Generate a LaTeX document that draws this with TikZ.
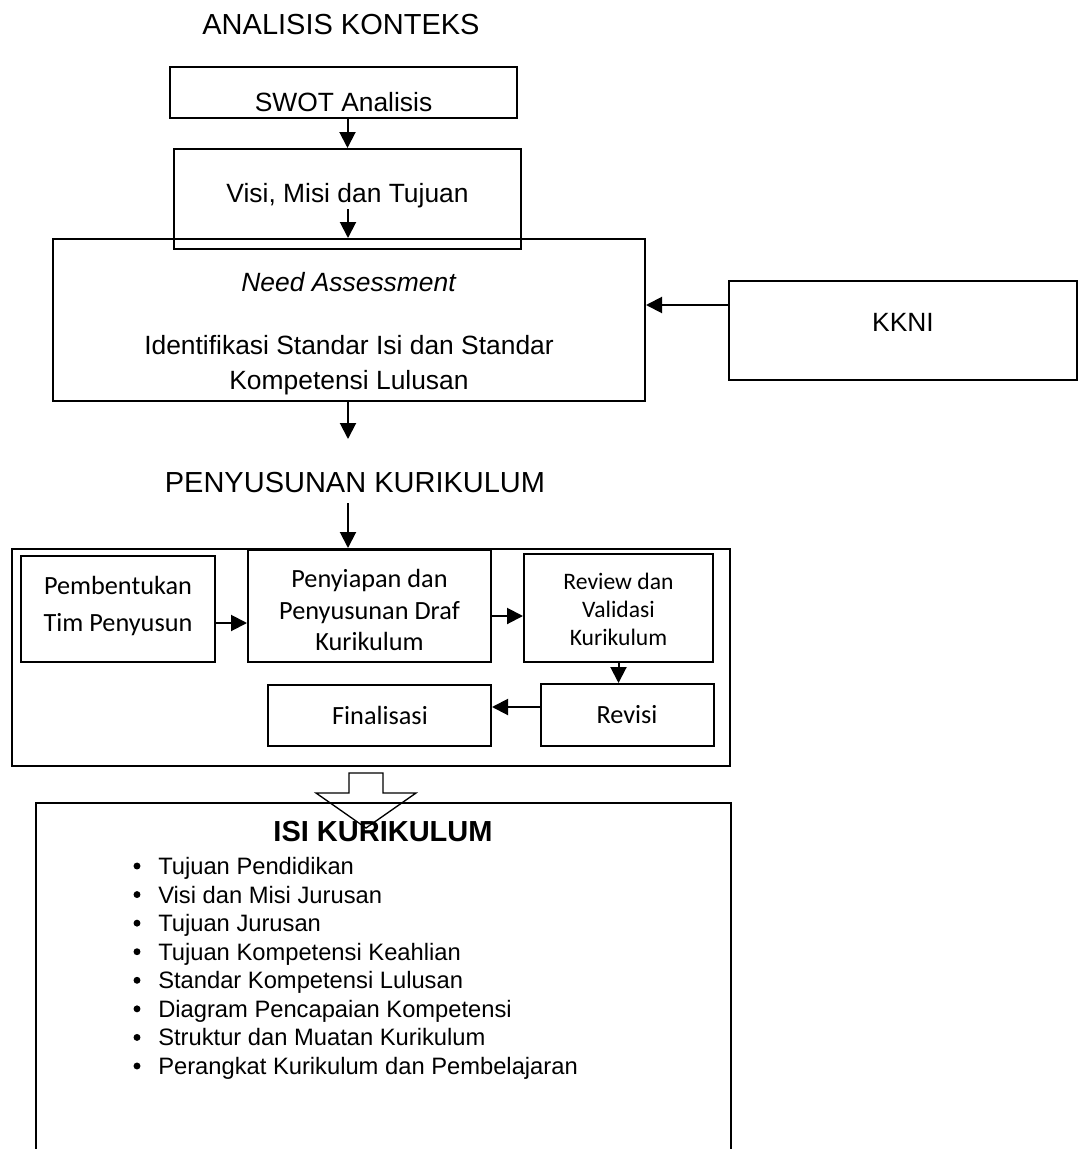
\documentclass[tikz,border=0pt]{standalone}
\usepackage{fontspec}
\setmainfont{Liberation Sans}
\newfontfamily\calibrifont{Carlito}
\usetikzlibrary{arrows.meta}

\begin{document}
\begin{tikzpicture}
[x=0.75pt, y=-0.75pt,
  boxdecorate/.style={draw, line width=1.5pt, inner sep=0pt},%
  linedecorate/.style={-{Triangle[length=12pt,width=12pt]}, line width=1.5pt},%
  arialtext/.style={font=\fontsize{19.8}{26.25}\selectfont, align=center, inner sep=0pt},%
  calibritext/.style={font=\calibrifont\fontsize{19.7}{28}\selectfont, align=center, inner sep=0pt},%
  titletext/.style={font=\fontsize{21.75}{26}\selectfont, inner sep=0pt},%
  itemtext/.style={font=\fontsize{17.8}{21.4}\selectfont, inner sep=0pt, anchor=base west}]
\useasboundingbox (0,0) rectangle (1081,1149);
%% boxes
\foreach \nodename/\x/\y/\w/\h in {swot/343.5/92.5/347/51, visi/347.5/199/347/100,
  need/349/320/592/162, kkni/903/330.5/348/99, penyusunan/371/657.5/718/217,
  tim/118/609/194/106, draf/369.5/606/243/112, review/618.5/608/189/108,
  final/379.5/715.5/223/61, revisi/627.5/715/173/62}
{
  \node (\nodename) at (\x,\y) [boxdecorate, minimum width=\w*0.75pt, minimum height=\h*0.75pt] {};
}
\node (isi) at (383.5,976) [inner sep=0pt, minimum width=695*0.75pt, minimum height=346*0.75pt] {};
\draw[line width=1.5pt] (isi.south west) -- (isi.north west) -- (isi.north east) -- (isi.south east);
%% texts
\node (analisis) at (341,25) [titletext] {ANALISIS KONTEKS};
\node (swot-text) at (343.5,101.7) [arialtext] {SWOT Analisis};
\node (visi-text) at (347.5,196) [arialtext] {Visi, Misi dan Tujuan};
\node (need-text) at (349,334) [arialtext] {\textit{Need Assessment}\\[21pt]Identifikasi Standar Isi dan Standar\\Kompetensi Lulusan};
\node (kkni-text) at (903,322.5) [arialtext] {KKNI};
\node (penyusunan-title) at (355,483) [titletext] {PENYUSUNAN KURIKULUM};
\node (tim-text) at (118,606) [calibritext] {Pembentukan\\Tim Penyusun};
\node (draf-text) at (369.5,610) [calibritext, font=\calibrifont\fontsize{19.7}{23.6}\selectfont] {Penyiapan dan\\Penyusunan Draf\\Kurikulum};
\node (review-text) at (618.5,609.5) [calibritext, font=\calibrifont\fontsize{17.7}{21.2}\selectfont] {Review dan\\Validasi\\Kurikulum};
\node (final-text) at (380,715) [calibritext] {Finalisasi};
\node (revisi-text) at (627,715) [calibritext] {Revisi};
\node (isi-title) at (383,832) [titletext, font=\bfseries\fontsize{21.75}{26}\selectfont] {ISI KURIKULUM};
\foreach \itemname [count=\i from 0] in {Tujuan Pendidikan, Visi dan Misi Jurusan,
  Tujuan Jurusan, Tujuan Kompetensi Keahlian, Standar Kompetensi Lulusan,
  Diagram Pencapaian Kompetensi, Struktur dan Muatan Kurikulum,
  Perangkat Kurikulum dan Pembelajaran}
{
  \node (item\i) at (158,874.5+28.57*\i) [itemtext] {\itemname};
  \fill (137,866+28.57*\i) circle[radius=2.6pt];
}
%% edges or lines
\draw[linedecorate] (swot.south -| visi.north) -- (visi.north);
\coordinate (visi-out) at (348,209);
\draw[linedecorate] (visi-out) -- (visi-out |- need.north);
\coordinate (need-out) at (348,439);
\draw[linedecorate] (need.south -| need-out) -- (need-out);
\path (kkni.west) ++(0,-25.5) coordinate (kkni-out);
\draw[linedecorate] (kkni-out) -- (kkni-out -| need.east);
\coordinate (penyusunan-in) at (348,503);
\draw[linedecorate] (penyusunan-in) -- (penyusunan-in |- penyusunan.north);
\path (tim.east) ++(0,14) coordinate (tim-out);
\draw[linedecorate] (tim-out) -- (tim-out -| draf.west);
\path (draf.east) ++(0,10) coordinate (draf-out);
\draw[linedecorate] (draf-out) -- (draf-out -| review.west);
\draw[linedecorate] (review.south) -- (review.south |- revisi.north);
\path (revisi.west) ++(0,-8) coordinate (revisi-out);
\draw[linedecorate] (revisi-out) -- (revisi-out -| final.east);
%% block arrow into the content box
\draw[line width=1pt] (349,773) -- (383,773) -- (383,793) -- (416,793)
  -- (366,828) -- (316,793) -- (349,793) -- cycle;
\end{tikzpicture}
\end{document}
